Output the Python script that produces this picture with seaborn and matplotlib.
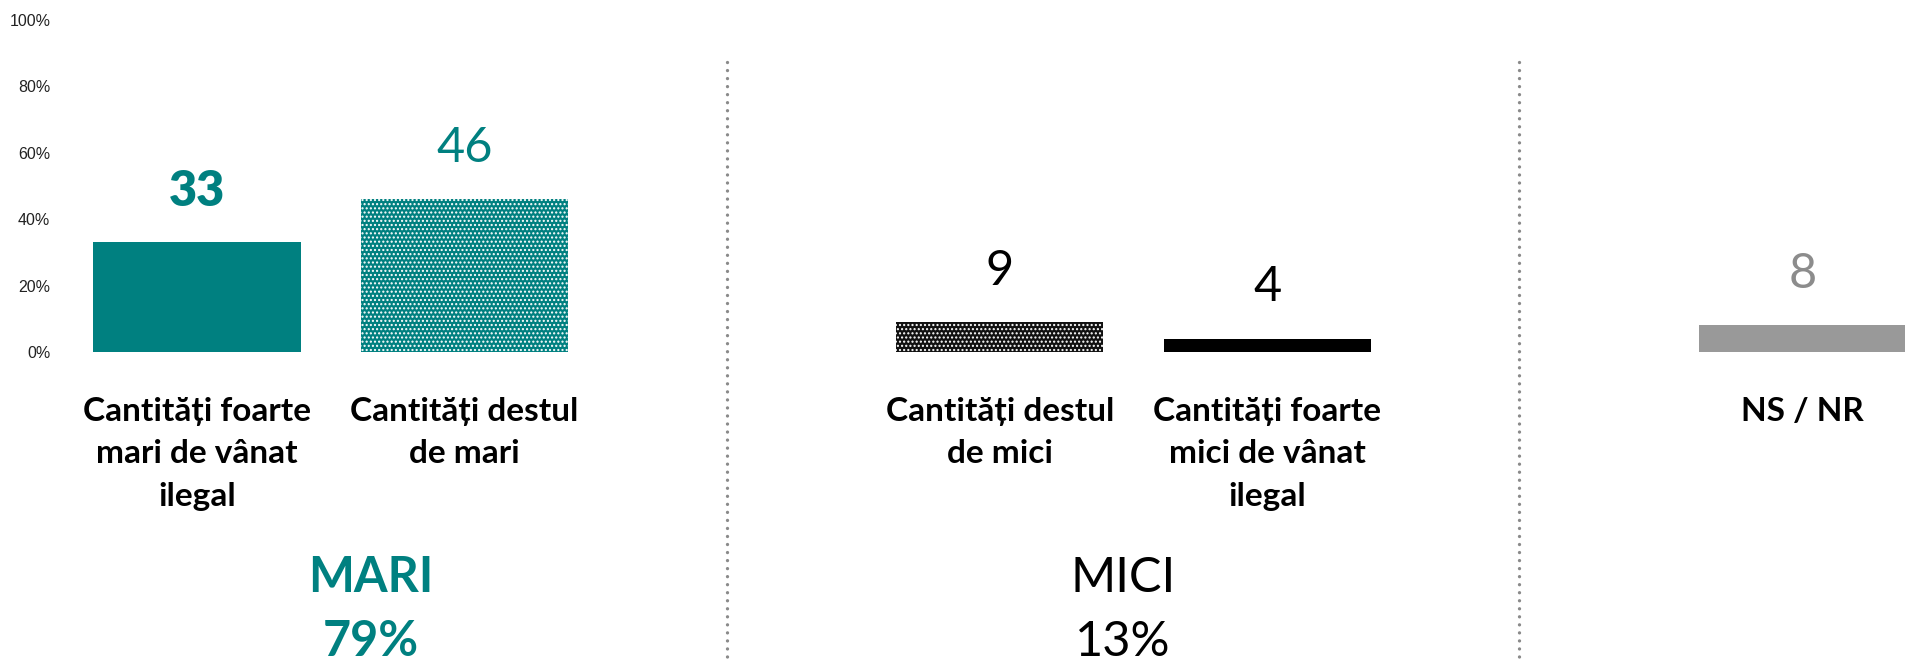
import matplotlib
matplotlib.use("Agg")
import matplotlib.pyplot as plt
import matplotlib.transforms as mtransforms
import seaborn as sns
import pandas as pd

# ---- data ----
categories = [
    "Cantități foarte\nmari de vânat\nilegal",
    "Cantități destul\nde mari",
    "Cantități destul\nde mici",
    "Cantități foarte\nmici de vânat\nilegal",
    "NS / NR",
]
values = [33, 46, 9, 4, 8]
positions = [0, 1, 3, 4, 6]
group_titles = ["MARI", "MICI"]
group_totals = ["79%", "13%"]
ytick_values = [0, 20, 40, 60, 80, 100]
ytick_labels = ["0%", "20%", "40%", "60%", "80%", "100%"]

# ---- styles ----
TEAL = "#008080"
bar_colors = [TEAL, TEAL, "#111111", "#000000", "#999999"]
bar_hatches = ["", "....", "....", "", ""]
label_colors = [TEAL, TEAL, "#000000", "#000000", "#8c8c8c"]
label_weights = ["heavy", "normal", "normal", "normal", "normal"]
group_colors = [TEAL, "#000000"]
group_weights = ["bold", "normal"]
group_x = [0.65, 3.46]
separator_x = [1.98, 4.94]

sns.set_theme(style="white")
plt.rcParams["font.family"] = ["Lato", "DejaVu Sans"]
plt.rcParams["hatch.linewidth"] = 1.0

W, H = 1905, 663
fig = plt.figure(figsize=(W / 100, H / 100), dpi=100)
left_px, right_px = 60, W
top_px, zero_px = 20, 352
ax = fig.add_axes([left_px / W, (H - zero_px) / H, (right_px - left_px) / W, (zero_px - top_px) / H])

df = pd.DataFrame({"pos": positions, "val": values, "cat": categories})
sns.barplot(data=df, x="pos", y="val", hue="cat", palette=dict(zip(categories, bar_colors)),
            native_scale=True, width=0.774, legend=False, ax=ax, saturation=1)

for p in ax.patches:
    cx = p.get_x() + p.get_width() / 2
    i = min(range(len(positions)), key=lambda k: abs(positions[k] - cx))
    p.set_facecolor(bar_colors[i])
    if bar_hatches[i]:
        p.set_hatch(bar_hatches[i])
        p.set_edgecolor("white")
    else:
        p.set_edgecolor(bar_colors[i])
    p.set_linewidth(0)

ax.set_xlim(-0.512, 6.383)
ax.set_ylim(0, 100)
ax.set_xticks([])
ax.set_xlabel("")
ax.set_ylabel("")
ax.set_yticks(ytick_values)
ax.set_yticklabels(ytick_labels, family=["Liberation Sans", "DejaVu Sans"], fontsize=11.5, color="#222222")
ax.tick_params(axis="y", length=0, pad=7)
for s in ax.spines.values():
    s.set_visible(False)

# value labels
for x, v, c, w in zip(positions, values, label_colors, label_weights):
    ax.annotate(str(v), (x, v), xytext=(0, 37), textcoords="offset points",
                ha="center", va="center", fontsize=35, color=c, fontweight=w)

# category labels
trans = mtransforms.blended_transform_factory(ax.transData, fig.transFigure)
for x, lab in zip(positions, categories):
    ax.text(x, 1 - 397 / H, lab, transform=trans, ha="center", va="top",
            fontsize=24, fontweight="bold", color="black", linespacing=1.56)

# group titles
for x, t, tot, c, w in zip(group_x, group_titles, group_totals, group_colors, group_weights):
    ax.text(x, 1 - 578 / H, t, transform=trans, ha="center", va="center",
            fontsize=35, color=c, fontweight=w)
    ax.text(x, 1 - 642 / H, tot, transform=trans, ha="center", va="center",
            fontsize=35, color=c, fontweight=w)

# dotted separators
for x in separator_x:
    ax.plot([x, x], [1 - 62 / H, 0], transform=trans, color="#8a8a8a", linestyle=(0, (0.01, 2.4)),
            linewidth=2.4, clip_on=False, dash_capstyle="round")

fig.savefig("out.png", dpi=100)
